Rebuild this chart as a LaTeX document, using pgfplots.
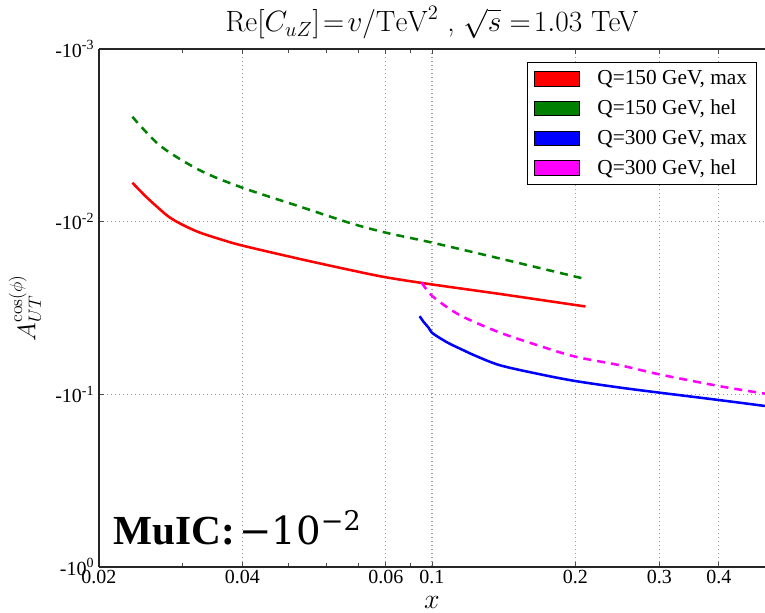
\RequirePackage{fix-cm}
\documentclass[border=0pt]{standalone}
\usepackage{fontspec}
\usepackage{pgfplots}
\pgfplotsset{compat=1.18}
\newfontfamily\tnr{Liberation Serif}
\newfontfamily\djs{DejaVu Serif}
\definecolor{cred}{RGB}{255,0,0}
\definecolor{cgreen}{RGB}{0,128,0}
\definecolor{cblue}{RGB}{0,0,255}
\definecolor{cmag}{RGB}{255,0,255}
\begin{document}
\begin{tikzpicture}
\begin{axis}[
  at={(0,0)}, anchor=south west,
  scale only axis, width=499.5pt, height=388.5pt,
  xmode=log, ymode=log, y dir=reverse,
  xmin=0.02, xmax=0.5, ymin=0.001, ymax=1,
  separate axis lines,
  axis x line*=box, axis y line*=left,
  axis line style={line width=1.1pt, black!85},
  xtick={0.02,0.04,0.08,0.1,0.2,0.3,0.4},
  xticklabels={0.02,0.04,0.06,0.1,0.2,0.3,0.4},
  minor xtick={0.03,0.05,0.06,0.07,0.09},
  ytick={0.001,0.01,0.1,1},
  yticklabels={-10\textsuperscript{-3},-10\textsuperscript{-2},-10\textsuperscript{-1},-10\textsuperscript{0}},
  yminorticks=false,
  tick label style={font=\tnr\fontsize{15pt}{17pt}\selectfont},
  xticklabel style={yshift=1.5pt},
  /pgf/number format/assume math mode=true,
  tick align=inside,
  major tick length=4pt, minor tick length=3pt,
  tick style={black!70, line width=0.6pt},
  grid=major,
  major grid style={gray!80, line width=0.8pt, dash pattern=on 0.8pt off 2.2pt},
  title={$\mathrm{Re}[C_{uZ}]\!=\!v/\mathrm{TeV}^2$ , $\sqrt{s}\,\!=\!1.03$ TeV},
  title style={font=\fontsize{22pt}{25pt}\selectfont, at={(0.5,1)}, anchor=base, yshift=7pt},
  xlabel={$x$},
  xlabel style={font=\fontsize{21pt}{23pt}\selectfont, at={(0.5,0)}, anchor=base, yshift=-31.5pt},
  ylabel={$A_{UT}^{\cos(\phi)}$},
  ylabel style={font=\fontsize{19pt}{21pt}\selectfont, yshift=4pt},
  legend cell align=left,
  legend style={at={(rel axis cs:0.988,0.975)}, anchor=north east,
    draw=black, line width=0.9pt, fill=white,
    font=\tnr\fontsize{16pt}{18pt}\selectfont,
    row sep=6pt, inner xsep=5pt, inner ysep=4pt,
    /tikz/every odd column/.append style={column sep=11pt}},
  legend image code/.code={\draw[#1, draw=black, line width=0.6pt] (0pt,-5.5pt) rectangle (34pt,5.5pt);},
]
\addplot[cred, line width=1.9pt, smooth, tension=0.5, forget plot] coordinates {
(0.0235,0.00595)(0.0251,0.00717)(0.0269,0.00853)(0.0279,0.00929)(0.0291,0.0100)(0.0308,0.01083)
(0.0326,0.01158)(0.0359,0.01263)(0.04,0.01376)
(0.0529,0.01647)(0.0674,0.01907)(0.08,0.0210)(0.1,0.0231)(0.139,0.02624)(0.21,0.0310)};
\addplot[cgreen, line width=1.9pt, smooth, tension=0.5, dash pattern=on 6pt off 4.5pt, forget plot] coordinates {
(0.0235,0.00247)(0.0269,0.00364)(0.0326,0.00505)(0.04,0.00636)(0.0529,0.00819)
(0.0674,0.0102)(0.08,0.01158)(0.1,0.01322)(0.139,0.01636)(0.208,0.02136)};
\addplot[cblue, line width=1.9pt, smooth, tension=0.5, forget plot] coordinates {
(0.0942,0.03527)(0.0960,0.03802)(0.0984,0.04117)(0.1,0.04399)(0.105,0.04809)(0.1093,0.05118)
(0.1166,0.05568)(0.1233,0.05977)(0.1391,0.06797)(0.1688,0.07661)(0.2,0.08377)(0.2487,0.09148)
(0.3,0.09777)(0.4,0.1079)(0.5,0.1168)};
\addplot[cmag, line width=1.9pt, smooth, tension=0.5, dash pattern=on 6pt off 4.5pt, forget plot] coordinates {
(0.0951,0.02252)(0.0968,0.02416)(0.1,0.0269)(0.1093,0.03227)(0.1185,0.0365)(0.1391,0.04399)
(0.1688,0.0526)(0.2,0.06055)(0.2487,0.06797)(0.3,0.07661)(0.4,0.08954)(0.5,0.0991)};
\addlegendimage{fill=cred}
\addlegendentry{Q=150 GeV, max}
\addlegendimage{fill=cgreen}
\addlegendentry{Q=150 GeV, hel}
\addlegendimage{fill=cblue}
\addlegendentry{Q=300 GeV, max}
\addlegendimage{fill=cmag}
\addlegendentry{Q=300 GeV, hel}
\node[anchor=base west, inner sep=0pt]
  at (rel axis cs:0.021,0.044) {{\tnr\bfseries\fontsize{31pt}{34pt}\selectfont MuIC:}\ {\djs\fontsize{29pt}{32pt}\selectfont −10\textsuperscript{−2}}};
\end{axis}
\pgfresetboundingbox
\useasboundingbox (-74.25pt,-34.5pt) rectangle (499.5pt,425.25pt);
\end{tikzpicture}
\end{document}
